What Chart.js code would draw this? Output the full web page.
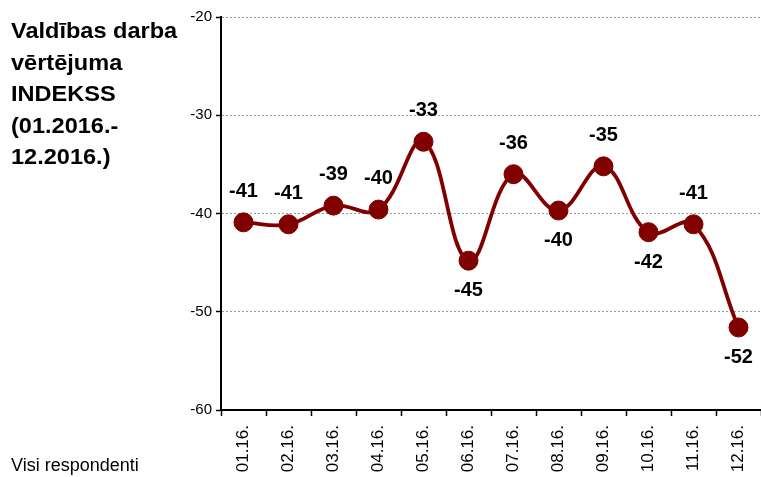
<!DOCTYPE html>
<html>
<head>
<meta charset="utf-8">
<script src="https://cdn.jsdelivr.net/npm/chart.js@4/dist/chart.umd.min.js"></script>
<style>
  html, body { margin: 0; padding: 0; background: #fff; }
  #wrap { position: relative; width: 761px; height: 477px; font-family: "Liberation Sans", Arial, sans-serif; }
  #title { position: absolute; left: 11px; top: 15px; font-size: 22px; font-weight: bold; line-height: 31.5px; color: #000;
           transform: scaleX(1.07); transform-origin: left top; white-space: nowrap; }
  #foot { position: absolute; left: 11px; top: 455px; font-size: 18px; color: #000; }
  canvas { position: absolute; left: 0; top: 0; }
</style>
</head>
<body>
<div id="wrap">
  <canvas id="indexChart" width="761" height="477"></canvas>
  <div id="title">Valdības darba<br>vērtējuma<br>INDEKSS<br>(01.2016.-<br>12.2016.)</div>
  <div id="foot">Visi respondenti</div>
</div>
<script>
/* ── data ── */
const months = ['01.16.', '02.16.', '03.16.', '04.16.', '05.16.', '06.16.',
                '07.16.', '08.16.', '09.16.', '10.16.', '11.16.', '12.16.'];
const indexValues = [-40.9, -41.1, -39.2, -39.6, -32.7, -44.8, -36.0, -39.7, -35.2, -41.9, -41.1, -51.6];
const labelSide = ['up', 'up', 'up', 'up', 'up', 'down', 'up', 'down', 'up', 'down', 'up', 'down'];
const yTicks = [-60, -50, -40, -30, -20];

const FONT = '"Liberation Sans", Arial, sans-serif';

/* ── value labels above / below each point ── */
const valueLabels = {
  id: 'valueLabels',
  afterDatasetsDraw(chart) {
    const { ctx } = chart;
    const meta = chart.getDatasetMeta(0);
    ctx.save();
    ctx.font = 'bold 20px ' + FONT;
    ctx.fillStyle = '#000';
    ctx.textAlign = 'center';
    ctx.textBaseline = 'middle';
    meta.data.forEach((pt, i) => {
      const dy = labelSide[i] === 'up' ? -31 : 30;
      ctx.fillText(String(Math.round(indexValues[i])), pt.x, pt.y + dy);
    });
    ctx.restore();
  },
};

new Chart(document.getElementById('indexChart'), {
  type: 'line',
  data: {
    labels: months,
    datasets: [{
      data: indexValues,
      borderColor: '#800000',
      borderWidth: 3.8,
      tension: 0.4,
      fill: false,
      pointBackgroundColor: '#800000',
      pointBorderColor: '#800000',
      pointBorderWidth: 1,
      pointRadius: 9.5,
    }],
  },
  options: {
    responsive: false,
    animation: false,
    layout: { autoPadding: false, padding: { top: 17, right: 0, bottom: 0, left: 0 } },
    plugins: { legend: { display: false }, tooltip: { enabled: false } },
    scales: {
      x: {
        offset: true,
        grid: { offset: true, drawOnChartArea: false, tickLength: 6, tickColor: '#000', tickWidth: 1.5 },
        border: { color: '#000', width: 2 },
        ticks: { color: '#000', font: { family: FONT, size: 17 }, maxRotation: 90, minRotation: 90, padding: 9 },
        afterFit: s => { s.height = 67; s.paddingLeft = 0; s.paddingRight = 0; },
      },
      y: {
        min: yTicks[0],
        max: yTicks[yTicks.length - 1],
        afterBuildTicks: s => { s.ticks = yTicks.map(v => ({ value: v })); },
        grid: { color: '#9a9a9a', lineWidth: 1, tickLength: 5, tickColor: '#000', tickWidth: 1.5 },
        border: { color: '#000', width: 2, dash: [2, 2] },
        ticks: { color: '#000', font: { family: FONT, size: 15 }, padding: 4 },
        afterFit: s => { s.width = 221; s.paddingTop = 0; s.paddingBottom = 0; },
      },
    },
  },
  plugins: [valueLabels],
});
</script>
</body>
</html>
